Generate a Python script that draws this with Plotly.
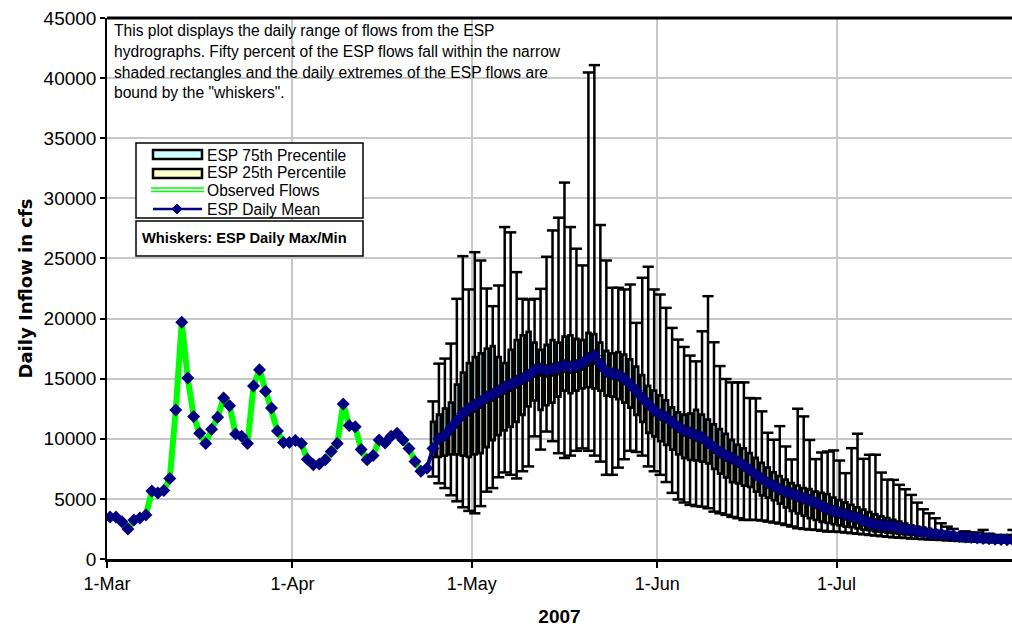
import pandas as pd
import plotly.graph_objects as go

# Observed daily inflow, 1-Mar through 23-Apr 2007 (cfs)
observed = [
    3500, 3500, 3100, 2500, 3250, 3400, 3650, 5650, 5500, 5700,
    6700, 12400, 19700, 15050, 11850, 10450, 9600, 10800, 11800, 13400,
    12750, 10400, 10200, 9600, 14400, 15750, 13950, 12550, 10650, 9700,
    9700, 9850, 9600, 8300, 7850, 7900, 8250, 8950, 9600, 12900,
    11100, 11000, 9100, 8250, 8600, 9900, 9650, 10200, 10450, 9900,
    9200, 8100, 7300, 7550,
]

# ESP ensemble statistics, 24-Apr through 30-Jul 2007 (cfs)
esp_mean = [
    9200, 10000, 10300, 10900, 11500, 12100, 12500, 12800, 13100, 13500,
    13700, 14000, 14300, 14500, 14800, 15000, 15300, 15700, 15800, 15700,
    15800, 15900, 16100, 16000, 16100, 16300, 16700, 16900, 16200, 15600,
    15400, 15300, 15000, 14500, 14000, 13400, 12900, 12400, 12000, 11800,
    11400, 11000, 10700, 10500, 10300, 10100, 9700, 9300, 8900, 8600,
    8400, 8100, 7800, 7400, 7000, 6700, 6350, 6100, 5800, 5600,
    5450, 5250, 5050, 4900, 4650, 4400, 4150, 4000, 3850, 3700,
    3550, 3400, 3200, 3000, 2900, 2800, 2750, 2700, 2600, 2500,
    2400, 2300, 2250, 2150, 2100, 2050, 2000, 1950, 1880, 1830,
    1780, 1740, 1700, 1680, 1650, 1620, 1600, 1580,
]
esp_median = [
    9000, 9700, 10000, 10500, 11000, 11600, 12000, 12300, 12600, 13000,
    13200, 13500, 13800, 14000, 14300, 14600, 14900, 15200, 15300, 15200,
    15300, 15400, 15600, 15500, 15600, 15800, 16100, 16300, 15700, 15200,
    15000, 14900, 14600, 14100, 13600, 13000, 12500, 12000, 11600, 11400,
    11000, 10600, 10300, 10100, 9900, 9700, 9300, 8900, 8500, 8200,
    8000, 7700, 7400, 7100, 6700, 6400, 6050, 5800, 5500, 5300,
    5150, 4950, 4750, 4600, 4350, 4150, 3900, 3750, 3600, 3450,
    3300, 3150, 2990, 2850, 2750, 2650, 2600, 2550, 2450, 2380,
    2300, 2200, 2150, 2070, 2020, 1970, 1930, 1890, 1840, 1800,
    1750, 1710, 1680, 1650, 1620, 1600, 1580, 1560,
]
esp_q75 = [
    11400, 12000, 12500, 13000, 14500, 15500, 16300, 16800, 17100, 17500,
    17700, 16800, 16300, 17400, 18200, 18600, 18900, 18000, 17400, 17800,
    18200, 18000, 18500, 18600, 18300, 18200, 18800, 18700, 18000, 17300,
    17100, 17200, 17000, 16600, 16000, 15300, 14400, 14000, 13600, 13200,
    12600, 12200, 12000, 12100, 12400, 12000, 11600, 11200, 10800, 10400,
    9900, 9500, 9200, 8800, 8400, 8000, 7600, 7200, 6900, 6600,
    6300, 6100, 5900, 5800, 5600, 5500, 5400, 5100, 4900, 4700,
    4500, 4300, 4100, 3900, 3700, 3550, 3400, 3250, 3100, 2950,
    2800, 2700, 2600, 2500, 2400, 2320, 2250, 2180, 2120, 2060,
    2000, 1960, 1920, 1880, 1850, 1820, 1800, 1780,
]
esp_q25 = [
    8500, 8500, 8600, 8700, 8700, 8600, 8500, 8700, 8800, 9300,
    9900, 10300, 10700, 11000, 11400, 12000, 12700, 13200, 12400, 12800,
    13000, 13500, 14000, 13800, 14000, 14200, 14300, 14200, 14000, 13600,
    13500, 13300, 13000, 12600, 12000, 11400, 10500, 10200, 9800, 9500,
    9100, 8700, 8400, 8250, 8200, 8100, 7950, 7500, 7100, 6800,
    6400, 6300, 6100, 6000, 5600, 5300, 5100, 4900, 4600, 4300,
    4000, 3800, 3600, 3400, 3250, 3100, 3000, 2900, 2800, 2700,
    2650, 2550, 2450, 2400, 2300, 2250, 2200, 2150, 2100, 2050,
    2000, 1950, 1900, 1850, 1800, 1760, 1720, 1680, 1650, 1620,
    1590, 1560, 1540, 1520, 1500, 1480, 1460, 1440,
]
esp_max = [
    13110, 16250, 16670, 17920, 21640, 25190, 22420, 25520, 24830, 22500,
    21030, 22750, 27610, 27170, 23860, 21640, 21580, 21640, 22470, 25140,
    27330, 28390, 31310, 27610, 25810, 24420, 40470, 41080, 27780, 24830,
    22560, 22560, 22420, 22830, 19640, 23390, 24310, 22420, 22000, 20890,
    19220, 18250, 17640, 16920, 16440, 18940, 21860, 18030, 16050, 14970,
    14690, 14690, 14690, 13390, 13360, 12280, 10500, 9920, 11050, 9360,
    8280, 12500, 11860, 9900, 8310, 8860, 8940, 9030, 8190, 7140,
    9220, 10420, 8330, 8670, 8670, 7190, 6600, 6580, 6170, 5800,
    5330, 4690, 4140, 3800, 3390, 2970, 2690, 2500, 2140, 2300,
    2200, 2200, 2420, 2100, 2000, 1900, 2000, 2420,
]
esp_min = [
    6860, 6300, 5900, 5300, 4800, 4300, 4000, 3800, 4400, 5600,
    5900, 6800, 7200, 7000, 6700, 7300, 7700, 10200, 9100, 10600,
    9800, 8800, 8400, 8600, 9000, 9200, 9000, 8600, 8100, 7000,
    7000, 7600, 8300, 9000, 8900, 8600, 7700, 7300, 7000, 6400,
    5500, 4950, 4700, 4500, 4400, 4350, 4220, 3940, 3800, 3670,
    3500, 3390, 3250, 3250, 3250, 3200, 3110, 3030, 2950, 2830,
    2700, 2560, 2500, 2450, 2420, 2350, 2280, 2280, 2250, 2200,
    2150, 2100, 2050, 2000, 1950, 1900, 1850, 1800, 1780, 1750,
    1700, 1680, 1650, 1620, 1600, 1580, 1550, 1530, 1500, 1480,
    1460, 1440, 1420, 1400, 1380, 1370, 1350, 1340,
]

month_ticks = ["2007-03-01", "2007-04-01", "2007-05-01", "2007-06-01", "2007-07-01"]
month_labels = ["1-Mar", "1-Apr", "1-May", "1-Jun", "1-Jul"]

note_lines = [
    "This plot displays the daily range of flows from the ESP",
    "hydrographs. Fifty percent of the ESP flows fall within the narrow",
    "shaded rectangles and the daily extremes of the ESP flows are",
    'bound by the "whiskers".',
]

NAVY = "#000080"
GREEN = "#00ff00"
CYAN = "#ccffff"
YELLOW = "#ffffcc"
GRID = "#c8c8c8"
FONT = "Liberation Sans, Arial, sans-serif"
DAY_MS = 24 * 3600 * 1000

# points sit mid-day, between the date tick marks
obs_dates = pd.date_range("2007-03-01 12:00", periods=len(observed), freq="D")
esp_dates = pd.date_range("2007-04-24 12:00", periods=len(esp_mean), freq="D")
all_dates = list(obs_dates) + list(esp_dates)
all_mean = observed + esp_mean

fig = go.Figure()

# whisker stems (daily max/min)
fig.add_trace(go.Bar(
    x=esp_dates, base=esp_min, y=[hi - lo for hi, lo in zip(esp_max, esp_min)],
    width=DAY_MS * 0.42, marker=dict(color="black", line=dict(width=0)),
))
# 25th percentile to median
fig.add_trace(go.Bar(
    x=esp_dates, base=esp_q25, y=[m - lo for m, lo in zip(esp_median, esp_q25)],
    width=DAY_MS * 0.62, marker=dict(color=YELLOW, line=dict(color="black", width=2.8)),
))
# median to 75th percentile
fig.add_trace(go.Bar(
    x=esp_dates, base=esp_median, y=[hi - m for hi, m in zip(esp_q75, esp_median)],
    width=DAY_MS * 0.62, marker=dict(color=CYAN, line=dict(color="black", width=2.8)),
))
# whisker caps
fig.add_trace(go.Scatter(
    x=list(esp_dates) + list(esp_dates), y=esp_max + esp_min, mode="markers",
    marker=dict(symbol="line-ew", size=8, color="black", line=dict(width=2.5, color="black")),
))
# ESP daily mean line
fig.add_trace(go.Scatter(
    x=all_dates, y=all_mean, mode="lines", line=dict(color=NAVY, width=4),
))
# observed flows
fig.add_trace(go.Scatter(
    x=obs_dates, y=observed, mode="lines", line=dict(color=GREEN, width=6),
))
# ESP daily mean markers
fig.add_trace(go.Scatter(
    x=all_dates, y=all_mean, mode="markers",
    marker=dict(symbol="diamond", size=10, color=NAVY),
))

L, R, T, B = 107, 1012, 18, 559


def px(xp):
    return (xp - L) / (R - L)


def py(yp):
    return (B - yp) / (B - T)


shapes = []
annotations = []

# heavy top border
shapes.append(dict(type="line", xref="paper", yref="paper", x0=0, x1=1, y0=1, y1=1,
                   line=dict(color="black", width=3), layer="above"))

# note panel
shapes.append(dict(type="rect", xref="paper", yref="paper",
                   x0=px(108), x1=px(568), y0=py(106), y1=py(20),
                   fillcolor="white", line=dict(width=0), layer="between"))
for i, line in enumerate(note_lines):
    annotations.append(dict(xref="paper", yref="paper", x=px(112), y=py(31 + 20.5 * i),
                            xanchor="left", yanchor="middle", showarrow=False, text=line,
                            font=dict(family=FONT, size=15.6, color="black")))

# key
shapes.append(dict(type="rect", xref="paper", yref="paper",
                   x0=px(136), x1=px(363), y0=py(218), y1=py(143),
                   fillcolor="white", line=dict(color="black", width=1.5), layer="above"))
shapes.append(dict(type="rect", xref="paper", yref="paper",
                   x0=px(136), x1=px(363), y0=py(256), y1=py(221),
                   fillcolor="white", line=dict(color="black", width=1.5), layer="above"))
shapes.append(dict(type="rect", xref="paper", yref="paper",
                   x0=px(153), x1=px(202), y0=py(159), y1=py(150),
                   fillcolor=CYAN, line=dict(color="black", width=2.5), layer="above"))
shapes.append(dict(type="rect", xref="paper", yref="paper",
                   x0=px(153), x1=px(202), y0=py(178), y1=py(169),
                   fillcolor=YELLOW, line=dict(color="black", width=2.5), layer="above"))
for yy in (188, 191.5):
    shapes.append(dict(type="line", xref="paper", yref="paper",
                       x0=px(151), x1=px(204), y0=py(yy), y1=py(yy),
                       line=dict(color=GREEN, width=1.5), layer="above"))
shapes.append(dict(type="line", xref="paper", yref="paper",
                   x0=px(153), x1=px(202), y0=py(209), y1=py(209),
                   line=dict(color=NAVY, width=2.5), layer="above"))
cx, cy, r = 177, 209, 5
shapes.append(dict(type="path", xref="paper", yref="paper",
                   path=f"M {px(cx)},{py(cy - r)} L {px(cx + r)},{py(cy)} "
                        f"L {px(cx)},{py(cy + r)} L {px(cx - r)},{py(cy)} Z",
                   fillcolor=NAVY, line=dict(color=NAVY, width=1), layer="above"))

key_labels = [("ESP 75th Precentile", 155), ("ESP 25th Percentile", 173),
              ("Observed Flows", 190), ("ESP Daily Mean", 209)]
for text, yy in key_labels:
    annotations.append(dict(xref="paper", yref="paper", x=px(205), y=py(yy),
                            xanchor="left", yanchor="middle", showarrow=False, text=text,
                            font=dict(family=FONT, size=15.6, color="black")))
annotations.append(dict(xref="paper", yref="paper", x=px(140), y=py(238),
                        xanchor="left", yanchor="middle", showarrow=False,
                        text="<b>Whiskers: ESP Daily Max/Min</b>",
                        font=dict(family=FONT, size=14.7, color="black")))

fig.update_layout(
    width=1012, height=628,
    margin=dict(l=L, r=1012 - R, t=T, b=628 - B),
    paper_bgcolor="white", plot_bgcolor="white",
    showlegend=False, barmode="overlay",
    font=dict(family=FONT, color="black"),
    shapes=shapes, annotations=annotations,
    xaxis=dict(
        type="date", range=["2007-03-01", "2007-07-30 08:00"],
        tickvals=month_ticks, ticktext=month_labels,
        showgrid=True, gridcolor=GRID, gridwidth=1.5,
        showline=True, linecolor="black", linewidth=3,
        ticks="outside", ticklen=6, tickwidth=1.5, tickcolor="black",
        tickfont=dict(family=FONT, size=18, color="black"),
        title=dict(text="<b>2007</b>", font=dict(family=FONT, size=19, color="black"), standoff=18),
        zeroline=False,
    ),
    yaxis=dict(
        range=[0, 45000], tick0=0, dtick=5000, tickformat="d",
        showgrid=True, gridcolor=GRID, gridwidth=1.5,
        showline=True, linecolor="black", linewidth=1.5,
        ticks="outside", ticklen=5, tickwidth=1.5, tickcolor="black",
        tickfont=dict(family=FONT, size=19, color="black"),
        title=dict(text="<b>Daily Inflow in cfs</b>",
                   font=dict(family="DejaVu Sans, sans-serif", size=18, color="black"), standoff=6),
        zeroline=False,
    ),
)

fig.write_html("out.html")
